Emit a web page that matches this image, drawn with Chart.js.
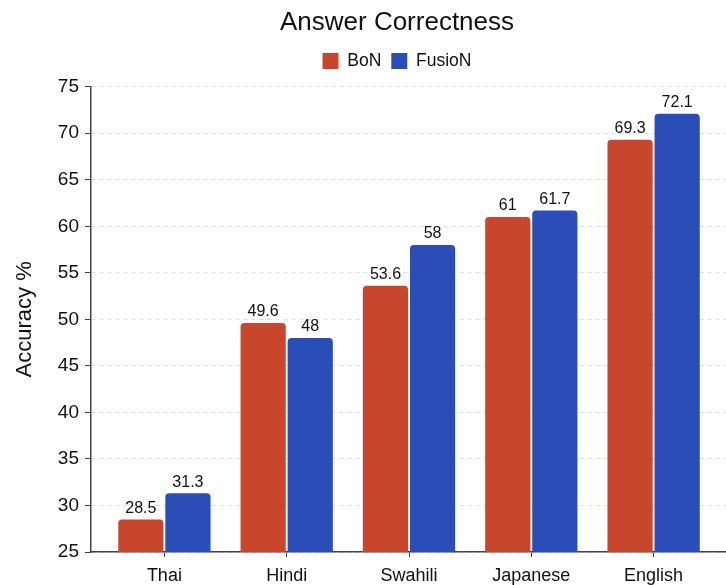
<!DOCTYPE html>
<html lang="en">
<head>
    <meta charset="UTF-8">
    <title>Answer Correctness</title>
    <script src="https://cdn.jsdelivr.net/npm/chart.js@4.4.1/dist/chart.umd.min.js"></script>
    <style>
        html, body { margin: 0; padding: 0; background: #fff; overflow: hidden; }
        .chart { position: relative; width: 794px; height: 585px; }
    </style>
</head>
<body>
    <div class="chart">
        <canvas id="accuracyChart"></canvas>
    </div>

    <script>
        // data
        const languages = ['Thai', 'Hindi', 'Swahili', 'Japanese', 'English'];
        const bonScores = [28.5, 49.6, 53.6, 61, 69.3];
        const fusionScores = [31.3, 48, 58, 61.7, 72.1];
        const yTicks = [25, 30, 35, 40, 45, 50, 55, 60, 65, 70, 75];

        const FONT = "'Liberation Sans', Arial, sans-serif";

        // values printed above each bar
        const barValueLabels = {
            id: 'barValueLabels',
            afterDatasetsDraw(chart) {
                const ctx = chart.ctx;
                ctx.save();
                ctx.font = `16px ${FONT}`;
                ctx.fillStyle = '#111';
                ctx.textAlign = 'center';
                ctx.textBaseline = 'bottom';
                chart.data.datasets.forEach((ds, i) => {
                    chart.getDatasetMeta(i).data.forEach((bar, j) => {
                        ctx.fillText(String(ds.data[j].y), bar.x, bar.y - 3);
                    });
                });
                ctx.restore();
            }
        };

        // a bit more room under the legend
        const legendGap = {
            id: 'legendGap',
            beforeInit(chart) {
                const fit = chart.legend.fit;
                chart.legend.fit = function () {
                    fit.bind(chart.legend)();
                    this.height += 7;
                };
            }
        };

        const toPoints = arr => arr.map((v, i) => ({ x: i, y: v }));

        new Chart(document.getElementById('accuracyChart'), {
            type: 'bar',
            data: {
                datasets: [
                    {
                        label: 'BoN',
                        data: toPoints(bonScores),
                        backgroundColor: '#c8472c',
                        borderRadius: { topLeft: 4, topRight: 4 },
                        borderSkipped: 'bottom',
                        categoryPercentage: 0.77,
                        barPercentage: 0.96
                    },
                    {
                        label: 'FusioN',
                        data: toPoints(fusionScores),
                        backgroundColor: '#2b4db8',
                        borderRadius: { topLeft: 4, topRight: 4 },
                        borderSkipped: 'bottom',
                        categoryPercentage: 0.77,
                        barPercentage: 0.96
                    }
                ]
            },
            options: {
                responsive: true,
                maintainAspectRatio: false,
                animation: false,
                layout: { padding: { left: 0, right: 0, top: 7, bottom: 0 } },
                plugins: {
                    title: {
                        display: true,
                        text: 'Answer Correctness',
                        color: '#111',
                        font: { family: FONT, size: 26, weight: 'normal' },
                        padding: { top: 0, bottom: 4 }
                    },
                    legend: {
                        display: true,
                        labels: {
                            color: '#111',
                            font: { family: FONT, size: 17.5 },
                            boxWidth: 16,
                            boxHeight: 16,
                            padding: 10
                        }
                    },
                    tooltip: { enabled: false }
                },
                scales: {
                    x: {
                        type: 'linear',
                        offset: false,
                        min: -0.6,
                        max: 4.6,
                        afterBuildTicks: axis => {
                            axis.ticks = languages.map((_, i) => ({ value: i }));
                        },
                        afterFit: axis => { axis.height = 33; },
                        ticks: {
                            color: '#111',
                            font: { family: FONT, size: 18 },
                            padding: 8,
                            autoSkip: false,
                            maxRotation: 0,
                            callback: v => languages[v]
                        },
                        grid: {
                            offset: false,
                            drawOnChartArea: false,
                            drawTicks: true,
                            tickLength: 5,
                            tickColor: '#444'
                        },
                        border: { color: '#444', width: 1.5 }
                    },
                    y: {
                        min: 25,
                        max: 75,
                        afterBuildTicks: axis => {
                            axis.ticks = yTicks.map(v => ({ value: v }));
                        },
                        afterFit: axis => { axis.width = 91; },
                        title: {
                            display: true,
                            text: 'Accuracy %',
                            color: '#111',
                            font: { family: FONT, size: 22 },
                            padding: { top: 12, bottom: 0 }
                        },
                        ticks: {
                            color: '#111',
                            font: { family: FONT, size: 19 },
                            padding: 6
                        },
                        grid: {
                            color: '#dddddd',
                            lineWidth: 1,
                            tickLength: 6,
                            tickColor: '#444',
                            tickBorderDash: []
                        },
                        border: { color: '#444', width: 1.5, dash: [4, 4] }
                    },
                    // empty strip on the right so the plot ends near x=727
                    yRight: {
                        position: 'right',
                        min: 25,
                        max: 75,
                        afterFit: axis => { axis.width = 67; },
                        ticks: { display: false },
                        grid: { display: false },
                        border: { display: false }
                    }
                }
            },
            plugins: [barValueLabels, legendGap]
        });
    </script>
</body>
</html>
